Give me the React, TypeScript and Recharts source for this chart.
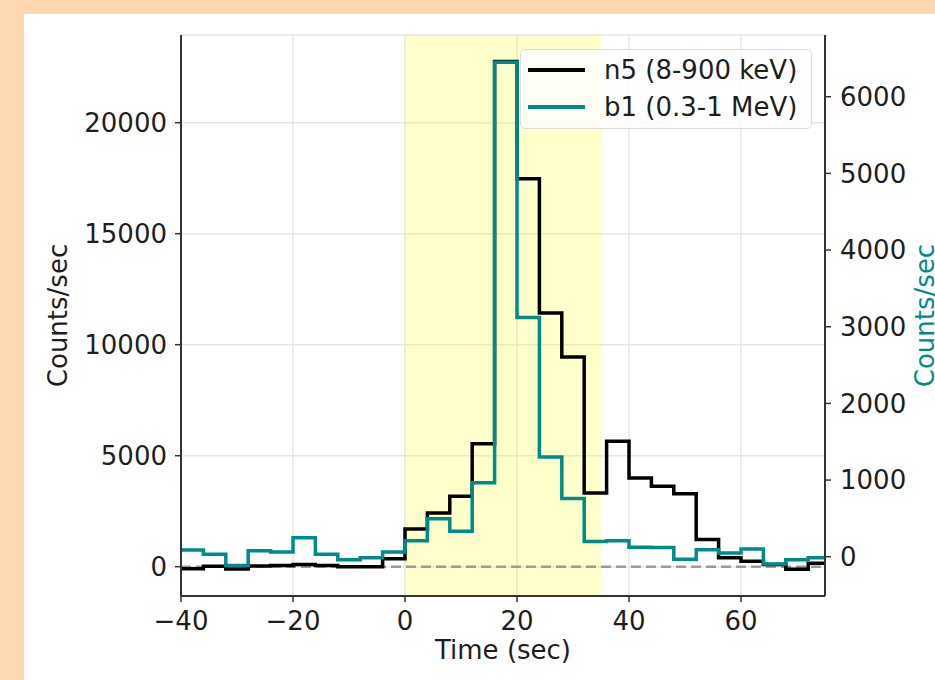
import React from 'react';
import {
  ComposedChart, Line, XAxis, YAxis, CartesianGrid, ReferenceArea, ReferenceLine,
} from 'recharts';

// 4 s bins, left edges; the final entry closes the last step
const binEdges = [
  -40, -36, -32, -28, -24, -20, -16, -12, -8, -4,
  0, 4, 8, 12, 16, 20, 24, 28, 32, 36,
  40, 44, 48, 52, 56, 60, 64, 68, 72, 76,
];

// n5 (8-900 keV), counts/sec, left axis
const n5Rates = [
  -90, 20, -100, 30, 50, 100, 50, 0, 0, 360,
  1700, 2420, 3170, 5540, 22760, 17480, 11430, 9450, 3320, 5650,
  4000, 3620, 3290, 1220, 400, 250, 100, -110, 160, 160,
];

// b1 (0.3-1 MeV), counts/sec, right axis
const b1Rates = [
  87, 31, -115, 77, 62, 248, 32, -38, -14, 62,
  209, 496, 331, 965, 6450, 3120, 1300, 760, 200, 210,
  125, 120, -34, 90, 50, 100, -95, -38, -14, -14,
];

const timeTicks = [-40, -20, 0, 20, 40, 60];
const n5Ticks = [0, 5000, 10000, 15000, 20000];
const b1Ticks = [0, 1000, 2000, 3000, 4000, 5000, 6000];

const timeDomain = [-40, 75];
const n5Domain = [-1320, 23950];
const b1Domain = [-512, 6805];

// shaded burst interval
const burstStart = 0;
const burstEnd = 35;

const FONT = '"DejaVu Sans", sans-serif';
const TEAL = '#008b8b';
const SPINE = '#333';

const data = binEdges.map((t, i) => ({ t, n5: n5Rates[i], b1: b1Rates[i] }));

const fmt = (v: number) => (v < 0 ? '\u2212' + Math.abs(v) : String(v));

const tickStyle = { fill: '#1e1e1e', fontSize: 26, fontFamily: FONT };

const App: React.FC = () => {
  return (
    <div style={{ position: 'absolute', left: 0, top: 0, width: 935, height: 680, overflow: 'hidden', background: '#fed8b1', fontFamily: FONT }}>
      <div style={{ position: 'absolute', left: 24, top: 14, right: 0, bottom: 0, background: '#fff' }} />
      <div style={{ position: 'absolute', left: 0, top: 0 }}>
        <ComposedChart width={935} height={680} data={data} margin={{ top: 35, right: 30, bottom: 24, left: 21 }}>
          <CartesianGrid yAxisId="left" stroke="#e6e6e6" strokeWidth={1.5} />
          <ReferenceArea x1={burstStart} x2={burstEnd} yAxisId="left" fill="#ffff00" fillOpacity={0.2} stroke="none" />
          <ReferenceLine y={0} yAxisId="left" stroke="#9a9a9a" strokeDasharray="10 5" strokeWidth={2.5} />
          <XAxis
            dataKey="t"
            type="number"
            domain={timeDomain}
            ticks={timeTicks}
            allowDataOverflow
            height={60}
            tickSize={6}
            tickMargin={10}
            tickFormatter={fmt}
            tick={tickStyle}
            tickLine={{ stroke: SPINE, strokeWidth: 1.5 }}
            axisLine={{ stroke: SPINE, strokeWidth: 2 }}
            label={(p: any) => (
              <text x={p.viewBox.x + p.viewBox.width / 2} y={p.viewBox.y + 63} textAnchor="middle" fontSize={26} fontFamily={FONT} fill="#1e1e1e">
                Time (sec)
              </text>
            )}
          />
          <XAxis
            xAxisId="top"
            orientation="top"
            dataKey="t"
            type="number"
            domain={timeDomain}
            allowDataOverflow
            height={0}
            tick={false}
            tickLine={false}
            axisLine={{ stroke: SPINE, strokeWidth: 2 }}
          />
          <YAxis
            yAxisId="left"
            type="number"
            domain={n5Domain}
            ticks={n5Ticks}
            allowDataOverflow
            width={160}
            tickSize={6}
            tickMargin={8}
            tickFormatter={fmt}
            tick={tickStyle}
            tickLine={{ stroke: SPINE, strokeWidth: 1.5 }}
            axisLine={{ stroke: SPINE, strokeWidth: 2 }}
            label={(p: any) => {
              const x = p.viewBox.x + p.viewBox.width - 114;
              const y = p.viewBox.y + p.viewBox.height / 2;
              return (
                <text x={x} y={y} transform={`rotate(-90, ${x}, ${y})`} textAnchor="middle" fontSize={26} fontFamily={FONT} fill="#1e1e1e">
                  Counts/sec
                </text>
              );
            }}
          />
          <YAxis
            yAxisId="right"
            orientation="right"
            type="number"
            domain={b1Domain}
            ticks={b1Ticks}
            allowDataOverflow
            width={80}
            tickSize={6}
            tickMargin={9}
            tickFormatter={fmt}
            tick={tickStyle}
            tickLine={{ stroke: SPINE, strokeWidth: 1.5 }}
            axisLine={{ stroke: SPINE, strokeWidth: 2 }}
            label={(p: any) => {
              const x = p.viewBox.x + 109;
              const y = p.viewBox.y + p.viewBox.height / 2;
              return (
                <text x={x} y={y} transform={`rotate(-90, ${x}, ${y})`} textAnchor="middle" fontSize={26} fontFamily={FONT} fill={TEAL}>
                  Counts/sec
                </text>
              );
            }}
          />
          <Line yAxisId="left" type="stepAfter" dataKey="n5" stroke="#000" strokeWidth={3.5} dot={false} isAnimationActive={false} />
          <Line yAxisId="right" type="stepAfter" dataKey="b1" stroke={TEAL} strokeWidth={3.5} dot={false} isAnimationActive={false} />
        </ComposedChart>
      </div>
      {/* legend box, upper right inside the axes */}
      <div style={{ position: 'absolute', left: 520, top: 49, width: 292, height: 80, boxSizing: 'border-box', background: 'rgba(255,255,255,0.8)', border: '1.5px solid #dcdcdc', borderRadius: 5 }}>
        {[
          { name: 'n5 (8-900 keV)', color: '#000', y: 20 },
          { name: 'b1 (0.3-1 MeV)', color: TEAL, y: 57 },
        ].map((row) => (
          <div key={row.name}>
            <div style={{ position: 'absolute', left: 7, top: row.y - 2, width: 57, height: 3.5, background: row.color }} />
            <div style={{ position: 'absolute', left: 83, top: row.y - 16, fontSize: 26, lineHeight: '32px', color: '#1e1e1e', whiteSpace: 'nowrap' }}>
              {row.name}
            </div>
          </div>
        ))}
      </div>
    </div>
  );
};

export default App;
